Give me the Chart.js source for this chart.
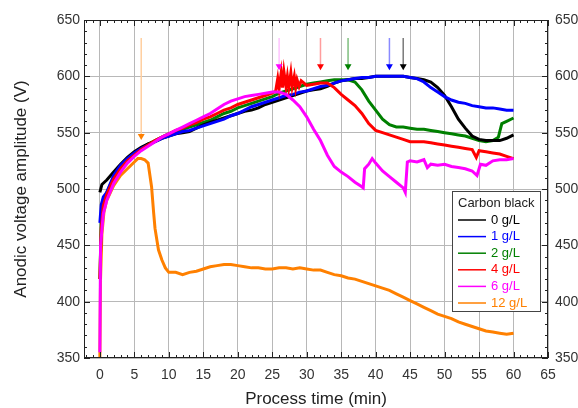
<!DOCTYPE html>
<html>
<head>
<meta charset="utf-8">
<script src="https://cdn.jsdelivr.net/npm/chart.js@4/dist/chart.umd.min.js"></script>
<style>
  html, body { margin: 0; padding: 0; background: #fff; }
  canvas { display: block; }
</style>
</head>
<body>
<canvas id="chart" width="578" height="408"></canvas>
<script>
// Trục
const xTicks = [0, 5, 10, 15, 20, 25, 30, 35, 40, 45, 50, 55, 60, 65];
const yTicks = [350, 400, 450, 500, 550, 600, 650];

// 0 g/L
const blackTime = [0, 0.3, 1, 2, 3, 4, 5, 6, 7, 8, 9, 10, 11, 12, 13, 14, 15, 16, 17, 18, 19, 20, 21, 22, 23, 24, 25, 26, 27, 28, 29, 30, 31, 32, 33, 34, 35, 36, 37, 38, 39, 40, 41, 42, 43, 44, 45, 46, 47, 48, 49, 50, 51, 52, 53, 54, 55, 56, 57, 58, 59, 60];
const blackVolt = [497, 504, 508, 515, 522, 528, 533, 537, 540, 542, 545, 547, 549, 550, 551, 554, 557, 559, 561, 563, 565, 567, 569, 570, 572, 575, 577, 579, 581, 583, 585, 587, 588, 589, 591, 594, 596, 597, 598, 598, 599, 600, 600, 600, 600, 600, 599, 598, 597, 595, 590, 583, 573, 562, 554, 547, 544, 543, 543, 543, 545, 548];

// 1 g/L
const blueTime = [0, 0.2, 0.5, 1, 2, 3, 4, 5, 6, 7, 8, 9, 10, 11, 12, 13, 14, 15, 16, 17, 18, 19, 20, 21, 22, 23, 24, 25, 26, 27, 28, 29, 30, 31, 32, 33, 34, 35, 36, 37, 38, 39, 40, 41, 42, 43, 44, 45, 46, 47, 48, 49, 50, 51, 52, 53, 54, 55, 56, 57, 58, 59, 60];
const blueVolt = [470, 486, 493, 497, 512, 521, 527, 532, 536, 539, 542, 545, 547, 549, 551, 552, 554, 556, 558, 560, 562, 565, 567, 570, 573, 575, 577, 579, 581, 583, 584, 586, 587, 589, 591, 592, 594, 596, 597, 598, 599, 599, 600, 600, 600, 600, 600, 599, 598, 595, 590, 586, 582, 579, 577, 576, 574, 573, 572, 572, 571, 570, 570];

// 2 g/L
const greenTime = [0, 0.2, 0.5, 1, 2, 3, 4, 5, 6, 7, 8, 9, 10, 11, 12, 13, 14, 15, 16, 17, 18, 19, 20, 21, 22, 23, 24, 25, 26, 27, 28, 29, 30, 31, 32, 33, 34, 35, 36, 37, 38, 39, 40, 41, 42, 43, 44, 45, 46, 47, 48, 49, 50, 51, 52, 53, 54, 55, 56, 57, 57.8, 58.3, 59, 60];
const greenVolt = [420, 470, 488, 497, 510, 519, 526, 531, 536, 540, 543, 546, 549, 551, 553, 555, 557, 559, 561, 564, 567, 569, 572, 574, 576, 578, 580, 582, 585, 587, 589, 591, 593, 594, 595, 596, 597, 597, 597, 595, 588, 578, 570, 562, 557, 555, 555, 554, 553, 553, 552, 551, 550, 549, 548, 547, 545, 543, 542, 543, 546, 558, 560, 563];

// 4 g/L
const redTime = [0, 0.2, 0.5, 1, 2, 3, 4, 5, 6, 7, 8, 9, 10, 11, 12, 13, 14, 15, 16, 17, 18, 19, 20, 21, 22, 23, 24, 25, 25.5, 25.8, 26, 26.3, 26.5, 26.7, 27, 27.2, 27.4, 27.7, 27.9, 28.2, 28.4, 28.6, 28.9, 29.2, 30, 31, 32, 33, 34, 35, 36, 37, 38, 39, 40, 41, 42, 43, 44, 45, 46, 47, 48, 49, 50, 51, 52, 53, 54, 54.6, 55, 56, 57, 58, 59, 60];
const redVolt = [420, 465, 485, 495, 509, 518, 525, 530, 535, 539, 543, 546, 549, 552, 554, 557, 559, 562, 564, 567, 570, 572, 575, 577, 579, 581, 583, 585, 587, 598, 589, 603, 590, 604, 591, 600, 590, 603, 591, 600, 590, 597, 591, 596, 592, 593, 594, 594, 590, 584, 579, 574, 567, 558, 552, 550, 548, 546, 544, 542, 542, 542, 541, 540, 539, 538, 537, 536, 535, 528, 534, 533, 532, 531, 529, 527];

// 6 g/L
const magentaTime = [0, 0.1, 0.5, 1, 2, 3, 4, 5, 6, 7, 8, 9, 10, 11, 12, 13, 14, 15, 16, 17, 18, 19, 20, 21, 22, 23, 24, 25, 26, 27, 28, 29, 30, 31, 32, 33, 34, 35, 36, 37, 38, 38.2, 38.4, 39, 39.5, 40, 41, 42, 43, 44, 44.3, 44.6, 45, 46, 47, 47.5, 48, 49, 50, 51, 52, 53, 54, 54.7, 55.2, 56, 57, 58, 59, 60];
const magentaVolt = [355, 450, 478, 490, 505, 515, 523, 529, 534, 538, 542, 546, 549, 552, 555, 558, 561, 564, 567, 571, 575, 578, 580, 582, 583, 584, 585, 586, 586, 584, 579, 573, 564, 553, 543, 530, 520, 515, 511, 506, 502, 501, 518, 522, 527, 523, 516, 511, 506, 501, 497, 524, 525, 524, 526, 519, 522, 521, 522, 520, 519, 518, 516, 512, 522, 521, 525, 526, 526, 527];

// 12 g/L
const orangeTime = [0, 0.1, 0.3, 0.6, 1, 2, 3, 4, 5, 5.5, 6, 6.5, 7, 7.5, 7.8, 8, 8.5, 9, 9.5, 10, 11, 12, 13, 14, 15, 16, 17, 18, 19, 20, 21, 22, 23, 24, 25, 26, 27, 28, 29, 30, 31, 32, 33, 34, 35, 36, 37, 38, 39, 40, 41, 42, 43, 44, 45, 46, 47, 48, 49, 50, 51, 52, 53, 54, 55, 56, 57, 58, 59, 60];
const orangeVolt = [350, 420, 460, 480, 490, 503, 512, 518, 524, 527, 527, 526, 523, 502, 479, 465, 446, 437, 430, 426, 426, 424, 426, 427, 429, 431, 432, 433, 433, 432, 431, 430, 430, 429, 429, 430, 430, 429, 430, 429, 428, 428, 426, 424, 423, 421, 420, 418, 416, 414, 412, 410, 407, 404, 401, 398, 395, 392, 389, 387, 385, 382, 380, 378, 376, 374, 373, 372, 371, 372];

// Mũi tên đánh dấu
const arrowTime = [6, 26, 32, 36, 42, 44];
const arrowTop = [634, 634, 634, 634, 634, 634];
const arrowTip = [547, 609, 609, 609, 609, 609];

const seriesLabels = ["0 g/L", "1 g/L", "2 g/L", "4 g/L", "6 g/L", "12 g/L"];
const seriesColors = ["#000000", "#0000ff", "#008000", "#ff0000", "#ff00ff", "#ff8000"];
const arrowColors = ["#ff8000", "#ff00ff", "#ff0000", "#008000", "#0000ff", "#000000"];
const arrowShaft = ["#ffcf9f", "#ffc4ff", "#ff9d9d", "#7fbf7f", "#8a8aff", "#7a7a7a"];
const drawOrder = [4, 3, 5, 2, 1, 6];

const FONT = "'Liberation Sans', Arial, sans-serif";

function toPoints(times, volts) {
    return times.map((t, i) => ({ x: t, y: volts[i] }));
}

const seriesData = [
    toPoints(blackTime, blackVolt),
    toPoints(blueTime, blueVolt),
    toPoints(greenTime, greenVolt),
    toPoints(redTime, redVolt),
    toPoints(magentaTime, magentaVolt),
    toPoints(orangeTime, orangeVolt),
];

const datasets = seriesData.map((d, i) => ({
    label: seriesLabels[i],
    data: d,
    borderColor: seriesColors[i],
    borderWidth: 3,
    pointRadius: 0,
    tension: 0,
    order: drawOrder[i],
}));

arrowTime.forEach((t, i) => {
    datasets.push({
        label: "arrow",
        data: [{ x: t, y: arrowTop[i] }, { x: t, y: arrowTip[i] }],
        borderColor: arrowShaft[i],
        borderWidth: 1.5,
        pointRadius: [0, 4],
        pointStyle: "triangle",
        rotation: 180,
        pointBackgroundColor: arrowColors[i],
        pointBorderColor: arrowColors[i],
        pointBorderWidth: 0,
        order: 0,
    });
});

// Khung và vạch chia hướng vào trong
const frameTicks = {
    id: "frameTicks",
    afterDatasetsDraw(chart) {
        const { ctx, chartArea: a, scales } = chart;
        ctx.save();
        ctx.strokeStyle = "#222";
        ctx.lineWidth = 1;
        ctx.beginPath();
        for (let t = -2; t <= 65; t++) {
            const x = Math.round(scales.x.getPixelForValue(t)) + 0.5;
            const len = t % 5 === 0 ? 6 : 3;
            ctx.moveTo(x, a.bottom); ctx.lineTo(x, a.bottom - len);
            ctx.moveTo(x, a.top); ctx.lineTo(x, a.top + len);
        }
        for (let v = 350; v <= 650; v += 10) {
            const y = Math.round(scales.y.getPixelForValue(v)) + 0.5;
            const len = v % 50 === 0 ? 6 : 3;
            ctx.moveTo(a.left, y); ctx.lineTo(a.left + len, y);
            ctx.moveTo(a.right, y); ctx.lineTo(a.right - len, y);
        }
        ctx.stroke();
        ctx.strokeRect(Math.round(a.left) + 0.5, Math.round(a.top) + 0.5,
            Math.round(a.right - a.left) - 1, Math.round(a.bottom - a.top) - 1);
        ctx.restore();
    }
};

// Chú thích trong vùng biểu đồ
const boxLegend = {
    id: "boxLegend",
    afterDraw(chart) {
        const ctx = chart.ctx;
        const left = 452, top = 191, w = 88, h = 120;
        ctx.save();
        ctx.fillStyle = "#fff";
        ctx.fillRect(left, top, w, h);
        ctx.strokeStyle = "#444";
        ctx.lineWidth = 1;
        ctx.strokeRect(left + 0.5, top + 0.5, w, h);
        ctx.font = "13px " + FONT;
        ctx.textBaseline = "middle";
        ctx.fillStyle = "#222";
        ctx.fillText("Carbon black", left + 6, top + 12);
        seriesLabels.forEach((lab, i) => {
            const y = top + 29 + i * 16.6;
            ctx.strokeStyle = seriesColors[i];
            ctx.lineWidth = 1.5;
            ctx.beginPath();
            ctx.moveTo(left + 6, y);
            ctx.lineTo(left + 34, y);
            ctx.stroke();
            ctx.fillStyle = seriesColors[i];
            ctx.fillText(lab, left + 39, y);
        });
        ctx.restore();
    }
};

const config = {
    type: "line",
    data: { datasets: datasets },
    options: {
        responsive: false,
        animation: false,
        layout: { padding: { top: 20, left: 0, right: 0, bottom: 0 } },
        plugins: {
            legend: { display: false },
            tooltip: { enabled: false },
        },
        scales: {
            x: {
                type: "linear",
                min: -2.3,
                max: 65,
                afterBuildTicks: (scale) => { scale.ticks = xTicks.map(v => ({ value: v })); },
                afterFit: (scale) => { scale.height = 50; },
                grid: { color: "#b8b8b8", lineWidth: 1, drawTicks: false },
                border: { display: false },
                ticks: { color: "#333", padding: 9, maxRotation: 0, font: { family: FONT, size: 14 } },
                title: {
                    display: true,
                    text: "Process time (min)",
                    color: "#222",
                    padding: 0,
                    font: { family: FONT, size: 17, lineHeight: 1 },
                },
            },
            y: {
                type: "linear",
                position: "left",
                min: 350,
                max: 650,
                afterBuildTicks: (scale) => { scale.ticks = yTicks.map(v => ({ value: v })); },
                afterFit: (scale) => { scale.width = 84; },
                grid: { color: "#b8b8b8", lineWidth: 1, drawTicks: false },
                border: { display: false },
                ticks: { color: "#333", padding: 4, font: { family: FONT, size: 14 } },
                title: {
                    display: true,
                    text: "Anodic voltage amplitude (V)",
                    color: "#222",
                    padding: { top: 13, bottom: 0 },
                    font: { family: FONT, size: 17, lineHeight: 1 },
                },
            },
            y2: {
                type: "linear",
                position: "right",
                min: 350,
                max: 650,
                afterBuildTicks: (scale) => { scale.ticks = yTicks.map(v => ({ value: v })); },
                afterFit: (scale) => { scale.width = 30; },
                grid: { display: false, drawTicks: false },
                border: { display: false },
                ticks: { color: "#333", padding: 7, font: { family: FONT, size: 14 } },
            },
        },
    },
    plugins: [frameTicks, boxLegend],
};

const voltChart = new Chart(document.getElementById("chart"), config);
</script>
</body>
</html>
